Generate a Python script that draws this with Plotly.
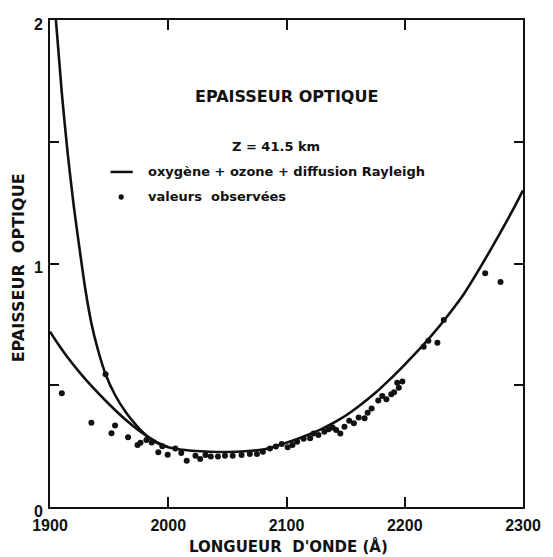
import plotly.graph_objects as go

# Model curve, steep branch
steep_x = [1905, 1910, 1915, 1920, 1925, 1930, 1935, 1940, 1947, 1955, 1964,
           1973, 1983, 1992, 2000, 2010, 2020, 2035, 2050, 2065, 2080, 2092,
           2105, 2120, 2132, 2147, 2160, 2175, 2187, 2200, 2212, 2224, 2233,
           2250, 2264, 2280, 2292, 2300]
steep_y = [2.00, 1.70, 1.45, 1.24, 1.06, 0.89, 0.755, 0.655, 0.545, 0.46, 0.39,
           0.335, 0.287, 0.259, 0.245, 0.236, 0.231, 0.227, 0.226, 0.229, 0.236, 0.252,
           0.272, 0.300, 0.326, 0.366, 0.41, 0.468, 0.522, 0.585, 0.646, 0.712, 0.765,
           0.875, 0.985, 1.12, 1.225, 1.30]

# Model curve, lower branch at short wavelengths
low_x = [1900, 1907, 1914, 1925, 1936, 1950, 1964, 1974, 1983, 1992, 2000]
low_y = [0.72, 0.668, 0.62, 0.553, 0.492, 0.422, 0.358, 0.318, 0.288, 0.262, 0.246]

# Observed values
obs_x = [1910, 1935, 1947, 1952, 1955, 1966, 1974, 1976.5, 1981.5, 1986,
         1991.6, 1995, 1999.5, 2006, 2011, 2015.6, 2023, 2027, 2031.5, 2036,
         2042, 2048, 2054.5, 2062, 2069, 2075, 2080, 2086, 2091, 2096,
         2101, 2105, 2109, 2114.5, 2120, 2123, 2127, 2132, 2135.6, 2139,
         2142, 2145.5, 2149, 2153, 2157, 2161, 2166, 2168.6, 2172, 2177.6,
         2181, 2184.5, 2188.6, 2191, 2193.6, 2195, 2198, 2216, 2220, 2227.6,
         2233, 2268, 2281]
obs_y = [0.467, 0.346, 0.545, 0.303, 0.335, 0.286, 0.255, 0.264, 0.275, 0.265,
         0.225, 0.25, 0.215, 0.24, 0.222, 0.19, 0.21, 0.197, 0.214, 0.207,
         0.207, 0.21, 0.21, 0.214, 0.218, 0.218, 0.227, 0.24, 0.248, 0.259,
         0.245, 0.255, 0.268, 0.28, 0.282, 0.302, 0.296, 0.309, 0.319, 0.327,
         0.316, 0.302, 0.33, 0.354, 0.344, 0.368, 0.364, 0.387, 0.405, 0.437,
         0.456, 0.442, 0.463, 0.471, 0.51, 0.49, 0.515, 0.658, 0.683, 0.675,
         0.768, 0.96, 0.924]

x_ticks = [1900, 2000, 2100, 2200, 2300]
y_ticks = [0, 0.5, 1, 1.5, 2]
y_ticktext = ["0", "", "1", "", "2"]

FONT = "DejaVu Sans"
NUMFONT = "Liberation Sans"
ink = "#111111"

fig = go.Figure()
fig.add_trace(go.Scatter(x=steep_x, y=steep_y, mode="lines",
                         line=dict(color=ink, width=2.6, shape="spline", smoothing=0.6),
                         showlegend=False))
fig.add_trace(go.Scatter(x=low_x, y=low_y, mode="lines",
                         line=dict(color=ink, width=2.6, shape="spline", smoothing=0.6),
                         showlegend=False))
fig.add_trace(go.Scatter(x=obs_x, y=obs_y, mode="markers",
                         marker=dict(color=ink, size=6),
                         showlegend=False))

fig.update_layout(
    width=553, height=557,
    margin=dict(l=50, r=18, t=20, b=50),
    paper_bgcolor="white", plot_bgcolor="white",
    font=dict(family=FONT, color=ink, size=14, weight="bold"),
    xaxis=dict(range=[1900, 2300], tickvals=x_ticks, ticks="inside", ticklen=10,
               tickwidth=1.5, tickcolor=ink, showline=True, linewidth=2, linecolor=ink,
               mirror="ticks", showgrid=False, zeroline=False, ticklabelstandoff=3,
               ticklabeloverflow="allow",
               tickfont=dict(size=16, family=NUMFONT, weight="bold")),
    yaxis=dict(range=[0, 2], tickvals=y_ticks, ticktext=y_ticktext, ticks="inside",
               ticklen=9, tickwidth=1.5, tickcolor=ink, showline=True, linewidth=2,
               linecolor=ink, mirror="ticks", showgrid=False, zeroline=False,
               ticklabelshift=4, ticklabelstandoff=2,
               tickfont=dict(size=16, family=NUMFONT, weight="bold")),
)

ann = [
    dict(text="EPAISSEUR OPTIQUE", x=0.5, y=0.842, xref="paper", yref="paper",
         xanchor="center", yanchor="middle", showarrow=False,
         font=dict(size=16, family=FONT, weight="bold")),
    dict(text="Z = 41.5 km", x=0.478, y=0.741, xref="paper", yref="paper",
         xanchor="center", yanchor="middle", showarrow=False,
         font=dict(size=13, family=FONT, weight="bold")),
    dict(text="oxygène + ozone + diffusion Rayleigh", x=0.202, y=0.688,
         xref="paper", yref="paper", xanchor="left", yanchor="middle",
         showarrow=False, font=dict(size=13, family=FONT, weight="bold")),
    dict(text="valeurs  observées", x=0.202, y=0.6366,
         xref="paper", yref="paper", xanchor="left", yanchor="middle",
         showarrow=False, font=dict(size=13, family=FONT, weight="bold")),
    dict(text="LONGUEUR  D'ONDE (Å)", x=0.505, y=0, yshift=-39, xref="paper",
         yref="paper", xanchor="center", yanchor="middle", showarrow=False,
         font=dict(size=15, family=FONT, weight="bold")),
    dict(text="EPAISSEUR  OPTIQUE", x=0, xshift=-32, y=0.49, xref="paper",
         yref="paper", xanchor="center", yanchor="middle", textangle=-90,
         showarrow=False, font=dict(size=16, family=FONT, weight="bold")),
]
fig.update_layout(annotations=ann)

fig.add_shape(type="line", xref="paper", yref="paper", x0=0.128, x1=0.175,
              y0=0.688, y1=0.688, line=dict(color=ink, width=2.5))
fig.add_shape(type="circle", xref="paper", yref="paper",
              x0=0.1505 - 0.0055, x1=0.1505 + 0.0055,
              y0=0.6366 - 0.0055, y1=0.6366 + 0.0055,
              fillcolor=ink, line=dict(color=ink, width=0))

fig.write_html("out.html")
